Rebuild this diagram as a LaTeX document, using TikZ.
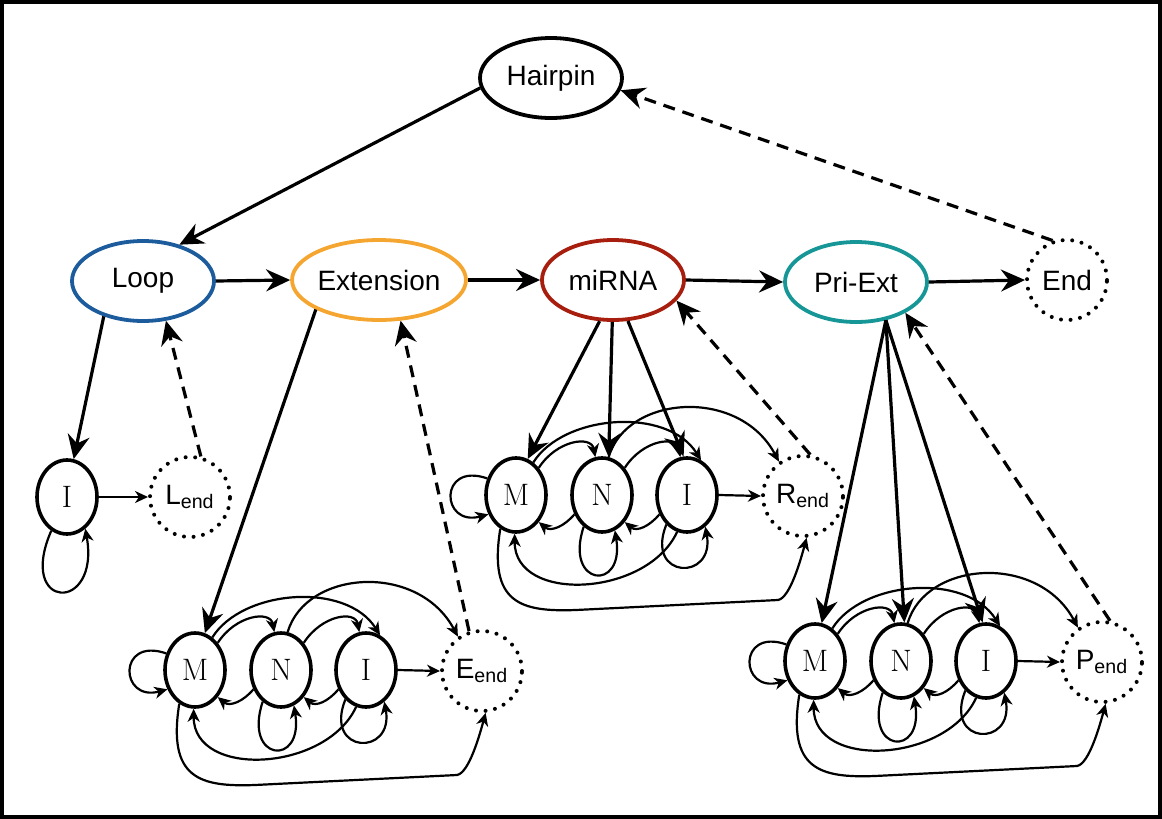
\documentclass[tikz,border=0pt]{standalone}
\usepackage{fontspec}
\setsansfont{Liberation Sans}
\usetikzlibrary{arrows.meta,shapes.geometric}
\definecolor{loopblu}{RGB}{28,92,156}
\definecolor{extarancio}{RGB}{245,166,48}
\definecolor{mirosso}{RGB}{168,30,14}
\definecolor{priverde}{RGB}{22,150,150}
\tikzset{
  fase/.style={ellipse,draw,line width=1.9pt,minimum width=71pt,minimum height=40pt,inner sep=0pt,font=\sffamily\fontsize{14}{16}\selectfont},
  stato/.style={ellipse,draw,line width=1.8pt,minimum width=30pt,minimum height=37pt,inner sep=0pt,font=\fontsize{15.5}{17}\selectfont},
  fine/.style={circle,draw,line width=2pt,dash pattern=on 0pt off 4.8pt,line cap=round,minimum size=40pt,inner sep=0pt,font=\sffamily\fontsize{14}{16}\selectfont},
  freccia/.style={-{Stealth[length=12pt,width=11pt,inset=4pt]},line width=1.6pt},
  ritorno/.style={freccia,dash pattern=on 6pt off 4pt},
  trans/.style={-{Stealth[length=6.5pt,width=6pt,inset=2pt]},line width=1.1pt}
}
\begin{document}
\begin{tikzpicture}[x=0.5pt,y=-0.5pt]
        \useasboundingbox (0,0) rectangle (1162,819);
        \draw[line width=1.6pt] (2,2) rectangle (1160,817); %cornice
        %fasi principali
        \node[fase] (hairpin) at (551,78) {Hairpin};
        \node[fase,draw=loopblu] (loop) at (143,281) {Loop};
        \node[fase,draw=extarancio] (ext) at (379,280) {Extension};
        \node[fase,draw=mirosso] (mirna) at (613,280) {miRNA};
        \node[fase,draw=priverde] (pri) at (856,282) {Pri-Ext};
        \node[fine] (fineall) at (1067,280) {End};
        \draw[freccia] (hairpin.188) -- (loop.45);
        \draw[freccia] (loop.east) -- (ext.west);
        \draw[freccia] (ext.east) -- (mirna.west);
        \draw[freccia] (mirna.east) -- (pri.west);
        \draw[freccia] (pri.east) -- (fineall.west);
        \draw[ritorno] (fineall.110) -- (hairpin.-10); %ritorno a hairpin
        %stati del loop
        \node[stato] (lI) at (67,497) {I};
        \node[fine] (lfine) at (190,497) {L\textsubscript{end}};
        \draw[freccia] (loop.222) -- (lI.80);
        \draw[ritorno] (lfine.75) -- (loop.300);
        \draw[trans] (lI.east) -- (lfine.west);
        \draw[trans] (lI.245) .. controls +(-35,80) and +(15,85) .. (lI.300);
        %stati M N I per extension, miRNA e pri-ext
        \foreach \p/\x/\y/\lab in {e/195/670/E, r/516/495/R, p/815/661/P} {
          \node[stato] (\p M) at (\x,\y) {M};
          \node[stato] (\p N) at (\x+86,\y) {N};
          \node[stato] (\p I) at (\x+171,\y) {I};
          \node[fine] (\p E) at (\x+287,\y+1) {\lab\textsubscript{end}};
          \draw[trans] (\p M.150) .. controls +(-49,-17) and +(-48,13) .. (\p M.215); %M su M
          \draw[trans] (\p M.50) .. controls +(18,-28) and +(-4,-22) .. (\p N.100);
          \draw[trans] (\p N.50) .. controls +(18,-28) and +(-4,-22) .. (\p I.100);
          \draw[trans] (\p M.62) .. controls +(30,-48) and +(-34,-54) .. (\p I.68);
          \draw[trans] (\p N.80) .. controls +(18,-62) and +(-40,-75) .. (\p E.125);
          \draw[trans] (\p N.215) .. controls +(-10,12) and +(12,10) .. (\p M.310);
          \draw[trans] (\p I.215) .. controls +(-10,12) and +(12,10) .. (\p N.310);
          \draw[trans] (\p N.240) .. controls +(-20,60) and +(10,62) .. (\p N.290); %N su N
          \draw[trans] (\p I.235) .. controls +(-22,55) and +(10,55) .. (\p I.300); %I su I
          \draw[trans] (\p I.255) .. controls +(-30,65) and +(0,70) .. (\p M.268);
          \draw[trans] (\p M.245) .. controls +(-12,75) and +(-55,2) .. (\x+60,\y+115) -- (\x+262,\y+105) .. controls +(12,-2) and +(-6,22) .. (\p E.275);
          \draw[trans] (\p I.east) -- (\p E.west);
        }
        %ingressi e ritorni
        \draw[freccia] (ext.205) -- (eM.75);
        \draw[ritorno] (eE.108) -- (ext.298);
        \draw[freccia] (mirna.252) -- (rM.72);
        \draw[freccia] (mirna.269) -- (rN.80);
        \draw[freccia] (mirna.290) -- (rI.95);
        \draw[ritorno] (rE.80) -- (mirna.342);
        \draw[freccia] (pri.308) -- (pM.80);
        \draw[freccia] (pri.308) -- (pN.85);
        \draw[freccia] (pri.308) -- (pI.95);
        \draw[ritorno] (pE.79) -- (pri.328);
\end{tikzpicture}
\end{document}
